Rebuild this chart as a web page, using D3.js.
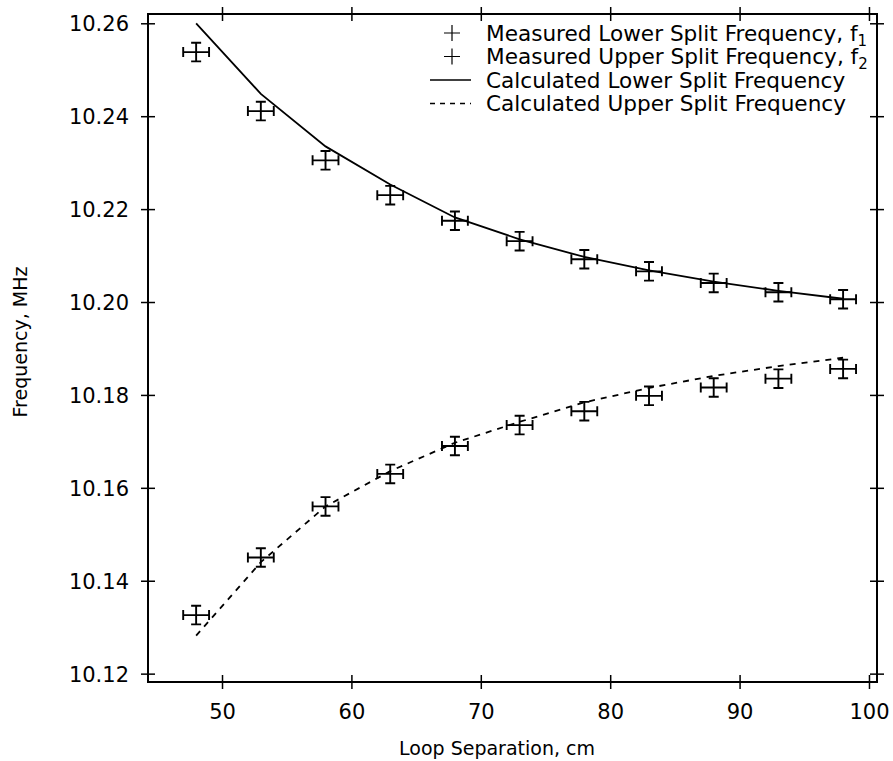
<!DOCTYPE html>
<html>
<head>
<meta charset="utf-8">
<script src="https://cdn.jsdelivr.net/npm/d3@7"></script>
<style>
body { margin: 0; background: #fff; }
svg text { font-family: "DejaVu Sans", Verdana, sans-serif; fill: #000; }
.axis path { display: none; }
.axis line { stroke: #000; stroke-width: 1.5; }
</style>
</head>
<body>
<div class="g-chart"></div>
<script>
// loop separation, cm
let separation = [48, 53, 58, 63, 68, 73, 78, 83, 88, 93, 98];
// measured split frequencies, MHz
let measuredF1 = [10.2538, 10.2411, 10.2305, 10.2230, 10.2175, 10.2131, 10.2092, 10.2066, 10.2041, 10.2021, 10.2006];
let measuredF2 = [10.1326, 10.1450, 10.1560, 10.1630, 10.1690, 10.1735, 10.1765, 10.1798, 10.1816, 10.1835, 10.1856];
// calculated curves
let calcF1 = [10.2600, 10.2448, 10.2335, 10.2253, 10.2182, 10.2135, 10.2097, 10.2068, 10.2044, 10.2024, 10.2007];
let calcF2 = [10.1282, 10.1440, 10.1560, 10.1636, 10.1697, 10.1742, 10.1784, 10.1815, 10.1841, 10.1862, 10.1880];
let errX = 1.0;     // cm
let errY = 0.002;   // MHz

let xTicks = [50, 60, 70, 80, 90, 100];
let yTicks = [10.12, 10.14, 10.16, 10.18, 10.20, 10.22, 10.24, 10.26];

let legendItems = [
    {label: "Measured Lower Split Frequency, f", sub: "1", type: "cross"},
    {label: "Measured Upper Split Frequency, f", sub: "2", type: "cross"},
    {label: "Calculated Lower Split Frequency", sub: "", type: "solid"},
    {label: "Calculated Upper Split Frequency", sub: "", type: "dashed"}
];

let width = 893, height = 761;
let margin = {left: 148, right: 16, top: 14, bottom: 79};
let w = width - margin.left - margin.right;
let h = height - margin.top - margin.bottom;

let svg = d3.select(".g-chart").append("svg")
    .attr("width", width)
    .attr("height", height);

let g = svg.append("g").attr("transform", `translate(${margin.left},${margin.top})`);

let x = d3.scaleLinear().domain([44.28, 100.62]).range([0, w]);
let y = d3.scaleLinear().domain([10.1182, 10.262]).range([h, 0]);

let tk = 7;

function crossTicks(sel) {
    sel.selectAll(".tick line").attr("y1", -tk).attr("y2", tk);
}
function crossTicksV(sel) {
    sel.selectAll(".tick line").attr("x1", -tk).attr("x2", tk);
}

// bottom axis
let xb = g.append("g").attr("class", "axis")
    .attr("transform", `translate(0,${h})`)
    .call(d3.axisBottom(x).tickValues(xTicks).tickSize(tk).tickPadding(0).tickFormat(d3.format("d")))
    .call(crossTicks);
xb.selectAll("text").attr("y", 30).attr("dy", "0.35em").style("font-size", "21px");

// top axis
g.append("g").attr("class", "axis")
    .call(d3.axisTop(x).tickValues(xTicks).tickSize(tk).tickFormat(""))
    .call(crossTicks);

// left axis
let yl = g.append("g").attr("class", "axis")
    .call(d3.axisLeft(y).tickValues(yTicks).tickSize(tk).tickFormat(d3.format(".2f")))
    .call(crossTicksV);
yl.selectAll("text").attr("x", -19).attr("dy", "0.36em").style("font-size", "21px");

// right axis
g.append("g").attr("class", "axis")
    .attr("transform", `translate(${w},0)`)
    .call(d3.axisRight(y).tickValues(yTicks).tickSize(tk).tickFormat(""))
    .call(crossTicksV);

// frame
g.append("rect")
    .attr("width", w).attr("height", h)
    .style("fill", "none").style("stroke", "#000").style("stroke-width", 2);

// calculated curves
let line = d3.line().x(d => x(d[0])).y(d => y(d[1]));
g.append("path")
    .datum(separation.map((s, i) => [s, calcF1[i]]))
    .attr("d", line)
    .style("fill", "none").style("stroke", "#000").style("stroke-width", 1.8);
g.append("path")
    .datum(separation.map((s, i) => [s, calcF2[i]]))
    .attr("d", line)
    .style("fill", "none").style("stroke", "#000").style("stroke-width", 1.8)
    .style("stroke-dasharray", "6 6");

// measured points with error bars
let cap = 5;
function drawPoints(vals) {
    let pts = g.append("g");
    separation.forEach(function(s, i) {
        let cx = x(s), cy = y(vals[i]);
        let x0 = x(s - errX), x1 = x(s + errX);
        let y0 = y(vals[i] - errY), y1 = y(vals[i] + errY);
        pts.append("path")
            .attr("d", `M${x0},${cy}H${x1}M${cx},${y0}V${y1}` +
                `M${x0},${cy - cap}V${cy + cap}M${x1},${cy - cap}V${cy + cap}` +
                `M${cx - cap},${y0}H${cx + cap}M${cx - cap},${y1}H${cx + cap}`)
            .style("fill", "none").style("stroke", "#000").style("stroke-width", 1.9);
    });
}
drawPoints(measuredF1);
drawPoints(measuredF2);

// axis titles
svg.append("text")
    .attr("x", 497).attr("y", 748)
    .attr("dy", "0.35em")
    .style("text-anchor", "middle").style("font-size", "19px")
    .text("Loop Separation, cm");

svg.append("text")
    .attr("transform", `translate(20,${margin.top + h / 2 - 6}) rotate(-90)`)
    .attr("dy", "0.35em")
    .style("text-anchor", "middle").style("font-size", "19px")
    .text("Frequency, MHz");

// legend
let leg = svg.append("g").attr("transform", "translate(430,33)");
let rowh = 23.5;
legendItems.forEach(function(d, i) {
    let row = leg.append("g").attr("transform", `translate(0,${i * rowh})`);
    if (d.type == "cross") {
        row.append("path")
            .attr("d", "M14,0H30M22,-8V8")
            .style("stroke", "#000").style("stroke-width", 1.2);
    } else {
        row.append("line")
            .attr("x1", 0).attr("x2", 41)
            .style("stroke", "#000").style("stroke-width", 1.6)
            .style("stroke-dasharray", d.type == "dashed" ? "5 5" : null);
    }
    let t = row.append("text")
        .attr("x", 56).attr("dy", "0.36em")
        .style("font-size", "21.6px")
        .text(d.label);
    if (d.sub) {
        t.append("tspan")
            .attr("dy", "5").style("font-size", "15px")
            .text(d.sub);
    }
});
</script>
</body>
</html>
